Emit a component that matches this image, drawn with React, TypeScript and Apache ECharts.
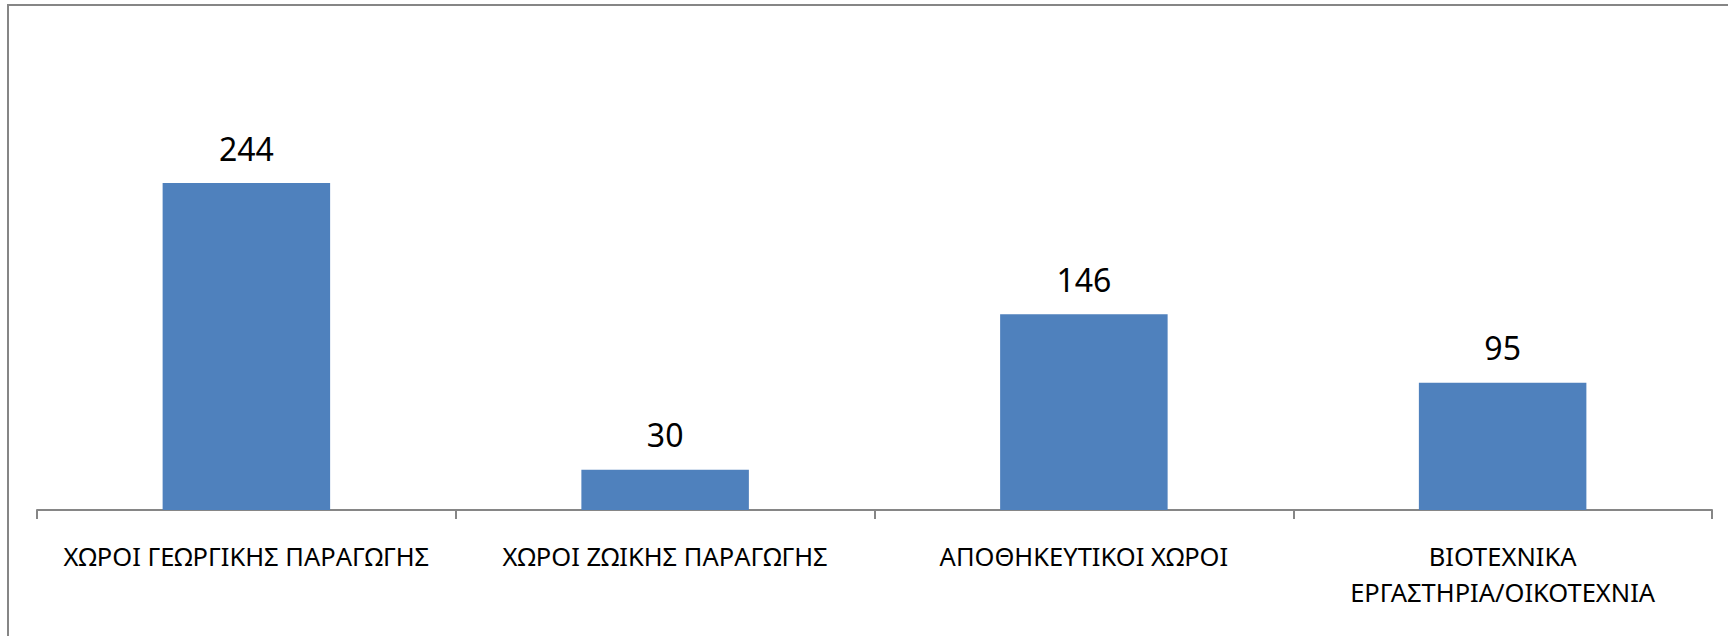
import React, { useEffect, useRef } from "react";
import * as echarts from "echarts";

const categories: string[] = [
  "ΧΩΡΟΙ ΓΕΩΡΓΙΚΗΣ ΠΑΡΑΓΩΓΗΣ",
  "ΧΩΡΟΙ ΖΩΙΚΗΣ ΠΑΡΑΓΩΓΗΣ",
  "ΑΠΟΘΗΚΕΥΤΙΚΟΙ ΧΩΡΟΙ",
  "ΒΙΟΤΕΧΝΙΚΑ ΕΡΓΑΣΤΗΡΙΑ/ΟΙΚΟΤΕΧΝΙΑ",
];
const values: number[] = [244, 30, 146, 95];

export default function App() {
  const ref = useRef<HTMLDivElement>(null);
  useEffect(() => {
    document.body.style.margin = "0";
    const chart = echarts.init(ref.current!, undefined, { renderer: "svg" });
    chart.setOption({
      animation: false,
      backgroundColor: "#ffffff",
      textStyle: { fontFamily: "'Noto Sans', sans-serif" },
      graphic: [
        {
          type: "rect",
          shape: { x: 8, y: 5, width: 1740, height: 660 },
          style: { fill: "none", stroke: "#868686", lineWidth: 2 },
          silent: true,
        },
      ],
      grid: { left: 37, right: 16, top: 108, bottom: 126, containLabel: false },
      xAxis: {
        type: "category",
        data: categories,
        axisLine: { show: true, lineStyle: { color: "#868686", width: 2 } },
        axisTick: { show: true, length: 9, alignWithLabel: false, lineStyle: { color: "#868686", width: 2 } },
        axisLabel: {
          color: "#000000",
          fontSize: 25.5,
          margin: 28,
          lineHeight: 36,
          interval: 0,
          formatter: (v: string) => (v.length > 30 ? v.replace(" ", "\n") : v),
        },
      },
      yAxis: {
        type: "value",
        min: 0,
        max: 300,
        show: false,
        splitLine: { show: false },
      },
      series: [
        {
          type: "bar",
          data: values,
          barWidth: "40%",
          itemStyle: { color: "#4F81BD" },
          label: {
            show: true,
            position: "top",
            distance: 19,
            color: "#000000",
            fontSize: 32,
          },
        },
      ],
    });
    return () => chart.dispose();
  }, []);
  return <div ref={ref} style={{ width: 1728, height: 636 }} />;
}
